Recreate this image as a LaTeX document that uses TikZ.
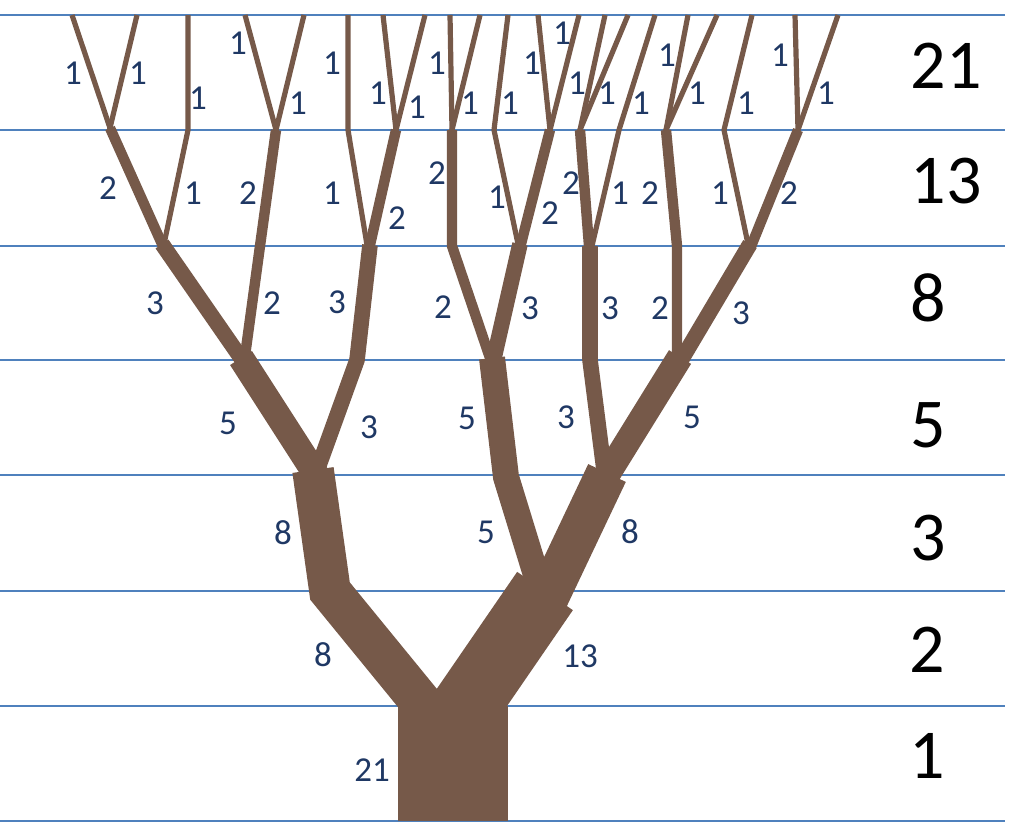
\documentclass[tikz,border=0pt]{standalone}
\usepackage{fontspec}
\setmainfont{Carlito}
\definecolor{treebrown}{RGB}{118,89,73}
\definecolor{gridblue}{RGB}{79,129,189}
\definecolor{labelblue}{RGB}{31,56,100}
\begin{document}
\begin{tikzpicture}[x=1pt,y=-1pt,
  br/.style={draw=treebrown, line cap=butt, line join=miter},
  wa/.style={br, line width=5.2pt, shorten <=-3pt},
  wb/.style={br, line width=10.4pt, shorten <=-5pt},
  wc/.style={br, line width=15.6pt, shorten <=-8pt},
  we/.style={br, line width=26pt, shorten <=-12pt},
  wh/.style={br, line width=41.6pt, shorten <=-20pt},
  wm/.style={br, line width=67.6pt, shorten <=-30pt},
  wt/.style={br, line width=110pt},
  hline/.style={draw=gridblue, line width=1.5pt},
  lab/.style={text=labelblue, font=\fontsize{35}{40}\selectfont, inner sep=0pt},
  big/.style={text=black, font=\fontsize{70}{80}\selectfont, inner sep=0pt}]
\useasboundingbox (0,0) rectangle (1024,839);
% horizontal lines
\foreach \yy in {15,130,246,360,475,591,706,821}{\draw[hline] (0,\yy) -- (1005,\yy);}
% junction coordinates
\coordinate (t0) at (453,821); \coordinate (t1) at (453,706);
\coordinate (a0) at (424,706); \coordinate (a1) at (330,591); \coordinate (a2) at (313,470);
\coordinate (b0) at (466,706); \coordinate (b1) at (545,591);
\coordinate (c0) at (541,591); \coordinate (c1) at (506,477); \coordinate (c2) at (492,358);
\coordinate (d0) at (551,591); \coordinate (d1) at (607,473);
\coordinate (e1) at (241,358);
\coordinate (f0) at (318,468); \coordinate (f1) at (357,360); \coordinate (f2) at (370,245);
\coordinate (g0) at (604,470); \coordinate (g1) at (590,360); \coordinate (g2) at (590,246);
\coordinate (h0) at (610,470); \coordinate (h1) at (680,357);
\coordinate (i1) at (162,244);
\coordinate (j0) at (245,356); \coordinate (j1) at (260,246); \coordinate (j2) at (276,130);
\coordinate (k0) at (490,358); \coordinate (k1) at (452,246); \coordinate (k2) at (452,130);
\coordinate (l0) at (494,358); \coordinate (l1) at (520,244);
\coordinate (m0) at (677,357); \coordinate (m1) at (677,246); \coordinate (m2) at (666,130);
\coordinate (n0) at (683,357); \coordinate (n1) at (750,244);
\coordinate (p1) at (110,128);
\coordinate (q0) at (164,244); \coordinate (q1) at (188,130); \coordinate (q2) at (188,15);
\coordinate (r0) at (367,245); \coordinate (r1) at (348,130); \coordinate (r2) at (348,15);
\coordinate (s1) at (396,130);
\coordinate (u0) at (518,244); \coordinate (u1) at (494,130); \coordinate (u2) at (508,15);
\coordinate (v0) at (521,244); \coordinate (v1) at (550,130);
\coordinate (x0) at (589,246); \coordinate (x1) at (580,130);
\coordinate (y0) at (592,246); \coordinate (y1) at (619,130); \coordinate (y2) at (655,15);
\coordinate (z0) at (748,244); \coordinate (z1) at (724,130); \coordinate (z2) at (752,15);
\coordinate (zz0) at (752,244); \coordinate (zz1) at (798,130);
% twig tops
\coordinate (tp1) at (72,15); \coordinate (tp2) at (137,15);
\coordinate (tj1) at (245,15); \coordinate (tj2) at (304,15);
\coordinate (ts1) at (383,15); \coordinate (ts2) at (425,15);
\coordinate (tk1) at (450,15); \coordinate (tk2) at (480,15);
\coordinate (tv1) at (538,15); \coordinate (tv2) at (579,15);
\coordinate (tx1) at (605,15); \coordinate (tx2) at (628,15);
\coordinate (tm1) at (688,15); \coordinate (tm2) at (717,15);
\coordinate (tz1) at (795,15); \coordinate (tz2) at (838,15);
% tree
\draw[wt] (t0) -- (t1);
\draw[wh] (a0) -- (a1) -- (a2);
\draw[wm] (b0) -- (b1);
\draw[we] (c0) -- (c1) -- (c2);
\draw[wh] (d0) -- (d1);
\draw[we] (a2) -- (e1);
\draw[wc] (f0) -- (f1) -- (f2);
\draw[wc] (g0) -- (g1) -- (g2);
\draw[we] (h0) -- (h1);
\draw[wc] (e1) -- (i1);
\draw[wb] (j0) -- (j1) -- (j2);
\draw[wb] (k0) -- (k1) -- (k2);
\draw[wc] (l0) -- (l1);
\draw[wb] (m0) -- (m1) -- (m2);
\draw[wc] (n0) -- (n1);
\draw[wb] (i1) -- (p1);
\draw[wa] (q0) -- (q1) -- (q2);
\draw[wa] (r0) -- (r1) -- (r2);
\draw[wb] (f2) -- (s1);
\draw[wa] (u0) -- (u1) -- (u2);
\draw[wb] (v0) -- (v1);
\draw[wb] (x0) -- (x1);
\draw[wa] (y0) -- (y1) -- (y2);
\draw[wa] (z0) -- (z1) -- (z2);
\draw[wb] (zz0) -- (zz1);
\draw[wa] (p1) -- (tp1); \draw[wa] (p1) -- (tp2);
\draw[wa] (j2) -- (tj1); \draw[wa] (j2) -- (tj2);
\draw[wa] (s1) -- (ts1); \draw[wa] (s1) -- (ts2);
\draw[wa] (k2) -- (tk1); \draw[wa] (k2) -- (tk2);
\draw[wa] (v1) -- (tv1); \draw[wa] (v1) -- (tv2);
\draw[wa] (x1) -- (tx1); \draw[wa] (x1) -- (tx2);
\draw[wa] (m2) -- (tm1); \draw[wa] (m2) -- (tm2);
\draw[wa] (zz1) -- (tz1); \draw[wa] (zz1) -- (tz2);
% branch labels
\node[lab] (L1a) at (372,770) {21};
\node[lab] (L2a) at (323,655) {8};
\node[lab] (L2b) at (580,656) {13};
\node[lab] (L3a) at (283,533) {8};
\node[lab] (L3b) at (486,532) {5};
\node[lab] (L3c) at (630,532) {8};
\node[lab] (L4a) at (228,423) {5};
\node[lab] (L4b) at (369,427) {3};
\node[lab] (L4c) at (467,418) {5};
\node[lab] (L4d) at (566,417) {3};
\node[lab] (L4e) at (692,417) {5};
\node[lab] (L5a) at (155,303) {3};
\node[lab] (L5b) at (272,303) {2};
\node[lab] (L5c) at (337,302) {3};
\node[lab] (L5d) at (443,307) {2};
\node[lab] (L5e) at (530,308) {3};
\node[lab] (L5f) at (610,308) {3};
\node[lab] (L5g) at (660,308) {2};
\node[lab] (L5h) at (741,313) {3};
\node[lab] (L6a) at (108,188) {2};
\node[lab] (L6b) at (193,193) {1};
\node[lab] (L6c) at (248,193) {2};
\node[lab] (L6d) at (332,193) {1};
\node[lab] (L6e) at (397,218) {2};
\node[lab] (L6f) at (437,173) {2};
\node[lab] (L6g) at (497,197) {1};
\node[lab] (L6h) at (550,213) {2};
\node[lab] (L6i) at (571,183) {2};
\node[lab] (L6j) at (620,193) {1};
\node[lab] (L6k) at (650,193) {2};
\node[lab] (L6l) at (720,193) {1};
\node[lab] (L6m) at (789,193) {2};
\node[lab] (L7a) at (73,73) {1};
\node[lab] (L7b) at (138,73) {1};
\node[lab] (L7c) at (198,98) {1};
\node[lab] (L7d) at (238,43) {1};
\node[lab] (L7e) at (298,103) {1};
\node[lab] (L7f) at (332,63) {1};
\node[lab] (L7g) at (378,93) {1};
\node[lab] (L7h) at (417,107) {1};
\node[lab] (L7i) at (437,63) {1};
\node[lab] (L7j) at (470,103) {1};
\node[lab] (L7k) at (510,103) {1};
\node[lab] (L7l) at (532,63) {1};
\node[lab] (L7m) at (562,33) {1};
\node[lab] (L7n) at (577,83) {1};
\node[lab] (L7o) at (607,93) {1};
\node[lab] (L7p) at (641,103) {1};
\node[lab] (L7q) at (667,55) {1};
\node[lab] (L7r) at (697,93) {1};
\node[lab] (L7s) at (746,103) {1};
\node[lab] (L7t) at (780,55) {1};
\node[lab] (L7u) at (826,93) {1};
% level totals
\node[big] (N7) at (946,66) {21};
\node[big] (N6) at (946,181) {13};
\node[big] (N5) at (928,298) {8};
\node[big] (N4) at (928,425) {5};
\node[big] (N3) at (928,538) {3};
\node[big] (N2) at (927,650) {2};
\node[big] (N1) at (927,756) {1};
\end{tikzpicture}
\end{document}
